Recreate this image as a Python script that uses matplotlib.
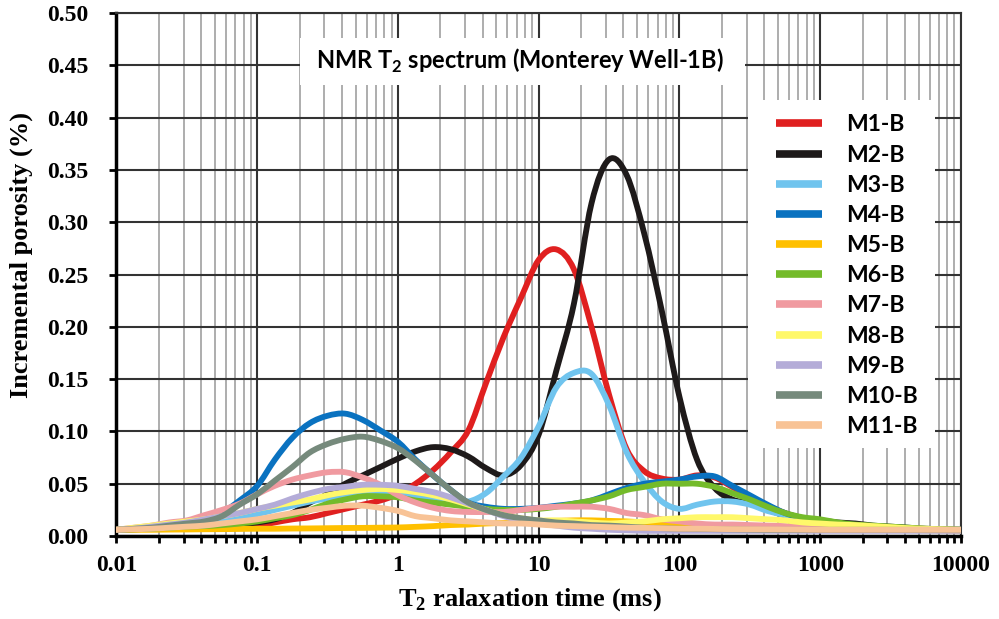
import matplotlib
matplotlib.use("Agg")
import matplotlib.pyplot as plt
import numpy as np
from matplotlib.lines import Line2D
from matplotlib.patches import PathPatch, Rectangle
from matplotlib.path import Path
from matplotlib.ticker import FixedLocator, FixedFormatter, LogLocator, NullFormatter

plt.rcParams.update(
    {
        "font.family": "Liberation Serif",
        "font.weight": "bold",
        "mathtext.fontset": "custom",
        "mathtext.rm": "Lato:bold",
        "mathtext.bf": "Liberation Serif:bold",
    }
)

# T2 bins (ms), 8 bins per decade from 0.01 to 10000 ms
t2_ms = np.logspace(-2, 4, 49)

labels = ["M1-B", "M2-B", "M3-B", "M4-B", "M5-B", "M6-B",
          "M7-B", "M8-B", "M9-B", "M10-B", "M11-B"]
colors = ["#e02020", "#1e1a1a", "#70c4ee", "#0a72c0", "#ffc000", "#74bb2a",
          "#f09aa0", "#fff86a", "#b4acd8", "#768a7c", "#f8c396"]

m1 = [0.006, 0.0065, 0.007, 0.007, 0.0075, 0.008, 0.008, 0.009, 0.010,
      0.013, 0.016, 0.018, 0.022, 0.026, 0.030, 0.034, 0.040,
      0.050, 0.063, 0.080, 0.101, 0.146, 0.190, 0.228, 0.264,
      0.274, 0.255, 0.200, 0.135, 0.083, 0.062, 0.055, 0.054,
      0.058, 0.056, 0.047, 0.038, 0.029, 0.022, 0.017, 0.014,
      0.012, 0.010, 0.009, 0.008, 0.007, 0.0065, 0.006, 0.006]
m2 = [0.006, 0.0065, 0.007, 0.008, 0.009, 0.0095, 0.010, 0.011, 0.013,
      0.016, 0.022, 0.032, 0.040, 0.050, 0.058, 0.066, 0.074,
      0.081, 0.085, 0.083, 0.076, 0.065, 0.058, 0.068, 0.097,
      0.158, 0.222, 0.318, 0.360, 0.345, 0.289, 0.215, 0.133,
      0.073, 0.046, 0.035, 0.031, 0.025, 0.020, 0.017, 0.015,
      0.013, 0.012, 0.010, 0.009, 0.008, 0.007, 0.0065, 0.006]
m3 = [0.006, 0.007, 0.008, 0.010, 0.011, 0.013, 0.015, 0.018, 0.021,
      0.025, 0.029, 0.033, 0.036, 0.039, 0.040, 0.041, 0.040,
      0.038, 0.036, 0.034, 0.033, 0.041, 0.057, 0.075, 0.105,
      0.142, 0.156, 0.155, 0.125, 0.080, 0.052, 0.033, 0.026,
      0.030, 0.033, 0.033, 0.030, 0.024, 0.020, 0.016, 0.014,
      0.012, 0.010, 0.009, 0.008, 0.007, 0.0065, 0.006, 0.006]
m4 = [0.006, 0.007, 0.008, 0.009, 0.011, 0.015, 0.022, 0.034, 0.048,
      0.073, 0.094, 0.108, 0.115, 0.117, 0.111, 0.101, 0.090,
      0.073, 0.058, 0.044, 0.032, 0.028, 0.026, 0.026, 0.027,
      0.029, 0.031, 0.034, 0.040, 0.046, 0.050, 0.052, 0.054,
      0.057, 0.057, 0.048, 0.039, 0.030, 0.022, 0.017, 0.014,
      0.012, 0.010, 0.009, 0.008, 0.007, 0.0065, 0.006, 0.006]
m5 = [0.006, 0.006, 0.006, 0.0062, 0.0063, 0.0065, 0.0066, 0.0068, 0.007,
      0.007, 0.0072, 0.0073, 0.0075, 0.0077, 0.0078, 0.008, 0.0082,
      0.0088, 0.0095, 0.0105, 0.011, 0.012, 0.0125, 0.013, 0.014,
      0.0145, 0.015, 0.015, 0.0145, 0.014, 0.013, 0.012, 0.011,
      0.0105, 0.010, 0.0095, 0.009, 0.0085, 0.008, 0.008, 0.0075,
      0.007, 0.007, 0.0065, 0.006, 0.006, 0.0055, 0.0055, 0.005]
m6 = [0.006, 0.0065, 0.007, 0.008, 0.009, 0.0095, 0.0105, 0.012, 0.014,
      0.017, 0.020, 0.025, 0.031, 0.035, 0.038, 0.038, 0.037,
      0.034, 0.032, 0.030, 0.028, 0.026, 0.025, 0.025, 0.026,
      0.028, 0.031, 0.034, 0.038, 0.044, 0.047, 0.050, 0.050,
      0.050, 0.047, 0.041, 0.035, 0.028, 0.022, 0.018, 0.016,
      0.013, 0.011, 0.010, 0.009, 0.008, 0.007, 0.0065, 0.006]
m7 = [0.006, 0.008, 0.010, 0.013, 0.015, 0.020, 0.025, 0.031, 0.040,
      0.048, 0.054, 0.058, 0.061, 0.061, 0.056, 0.049, 0.039,
      0.032, 0.027, 0.024, 0.023, 0.023, 0.023, 0.025, 0.027,
      0.028, 0.028, 0.028, 0.026, 0.022, 0.020, 0.016, 0.014,
      0.012, 0.011, 0.011, 0.0105, 0.010, 0.0095, 0.009, 0.008,
      0.008, 0.007, 0.007, 0.0065, 0.006, 0.006, 0.0055, 0.0055]
m8 = [0.006, 0.008, 0.010, 0.012, 0.014, 0.016, 0.019, 0.022, 0.026,
      0.029, 0.032, 0.035, 0.039, 0.042, 0.044, 0.045, 0.044,
      0.042, 0.039, 0.035, 0.030, 0.025, 0.020, 0.017, 0.015,
      0.015, 0.014, 0.013, 0.012, 0.013, 0.014, 0.016, 0.017,
      0.018, 0.018, 0.018, 0.017, 0.016, 0.015, 0.013, 0.012,
      0.011, 0.0105, 0.0095, 0.0085, 0.0075, 0.007, 0.0065, 0.006]
m9 = [0.006, 0.007, 0.009, 0.011, 0.013, 0.016, 0.019, 0.022, 0.026,
      0.030, 0.036, 0.041, 0.045, 0.047, 0.049, 0.049, 0.048,
      0.045, 0.042, 0.037, 0.031, 0.025, 0.019, 0.015, 0.012,
      0.010, 0.008, 0.007, 0.006, 0.0055, 0.005, 0.005, 0.005,
      0.005, 0.005, 0.005, 0.005, 0.005, 0.005, 0.005, 0.005,
      0.005, 0.005, 0.005, 0.005, 0.005, 0.005, 0.005, 0.005]
m10 = [0.006, 0.007, 0.008, 0.010, 0.012, 0.014, 0.019, 0.030, 0.040,
       0.053, 0.066, 0.080, 0.088, 0.093, 0.095, 0.091, 0.084,
       0.072, 0.058, 0.044, 0.032, 0.025, 0.020, 0.017, 0.015,
       0.013, 0.012, 0.0105, 0.010, 0.009, 0.008, 0.0075, 0.007,
       0.0068, 0.0066, 0.0064, 0.0062, 0.006, 0.006, 0.006, 0.006,
       0.006, 0.006, 0.006, 0.006, 0.006, 0.006, 0.006, 0.006]
m11 = [0.006, 0.0065, 0.007, 0.008, 0.009, 0.010, 0.012, 0.014, 0.016,
       0.019, 0.022, 0.025, 0.027, 0.029, 0.029, 0.027, 0.024,
       0.019, 0.017, 0.015, 0.014, 0.013, 0.012, 0.012, 0.011,
       0.010, 0.0095, 0.009, 0.0085, 0.008, 0.0078, 0.0075, 0.007,
       0.007, 0.0068, 0.0066, 0.0065, 0.0064, 0.0063, 0.0062, 0.006,
       0.006, 0.006, 0.006, 0.006, 0.006, 0.006, 0.006, 0.006]
series = [m1, m2, m3, m4, m5, m6, m7, m8, m9, m10, m11]

x_ticks = [0.01, 0.1, 1, 10, 100, 1000, 10000]
x_tick_labels = ["0.01", "0.1", "1", "10", "100", "1000", "10000"]
y_ticks = np.arange(0, 0.501, 0.05)


def smooth_path(x, y):
    # Excel-style "smoothed line": cubic Bezier segments through the points
    lx = np.log10(x)
    y = np.asarray(y, dtype=float)
    n = len(lx)
    verts = [(x[0], y[0])]
    codes = [Path.MOVETO]
    for i in range(n - 1):
        i0 = max(i - 1, 0)
        i3 = min(i + 2, n - 1)
        c1 = (lx[i] + (lx[i + 1] - lx[i0]) / 6, y[i] + (y[i + 1] - y[i0]) / 6)
        c2 = (lx[i + 1] - (lx[i3] - lx[i]) / 6, y[i + 1] - (y[i3] - y[i]) / 6)
        verts += [(10 ** c1[0], c1[1]), (10 ** c2[0], c2[1]), (x[i + 1], y[i + 1])]
        codes += [Path.CURVE4] * 3
    return Path(verts, codes)


fig = plt.figure(figsize=(9.99, 6.19), dpi=100)
ax = fig.add_axes([0.1166, 0.134, 0.8453, 0.845])

ax.set_xscale("log")
ax.set_xlim(0.01, 10000)
ax.set_ylim(0, 0.5)

for vals, col in zip(series, colors):
    ax.add_patch(PathPatch(smooth_path(t2_ms, vals), facecolor="none", edgecolor=col,
                           lw=4.2, capstyle="round", joinstyle="round", zorder=3))

ax.xaxis.set_major_locator(FixedLocator(x_ticks))
ax.xaxis.set_major_formatter(FixedFormatter(x_tick_labels))
ax.xaxis.set_minor_locator(LogLocator(base=10, subs=np.arange(2, 10), numticks=20))
ax.xaxis.set_minor_formatter(NullFormatter())
ax.set_yticks(y_ticks)
ax.set_yticklabels([f"{v:.2f}" for v in y_ticks])

ax.set_axisbelow(True)
ax.grid(which="major", axis="both", color="#333333", lw=1.5)
ax.grid(which="minor", axis="x", color="#a0a0a0", lw=1.2)

for side in ["left", "bottom"]:
    ax.spines[side].set_linewidth(2.5)
    ax.spines[side].set_color("black")
for side in ["top", "right"]:
    ax.spines[side].set_linewidth(1.5)
    ax.spines[side].set_color("#333333")

ax.tick_params(axis="both", which="both", direction="out", width=2, length=5, color="black")
ax.tick_params(axis="y", labelsize=17, pad=15)
ax.tick_params(axis="x", labelsize=17, pad=9)

ax.set_xlabel(r"T$_\mathbf{2}$ ralaxation time (ms)", fontsize=19, fontweight="bold")
ax.set_ylabel("Incremental porosity (%)", fontsize=19, fontweight="bold")
ax.xaxis.set_label_coords(0.49, -0.095)
ax.yaxis.set_label_coords(-0.099, 0.537)

# title box inside the plot
ax.add_patch(Rectangle((0.2173, 0.862), 0.527, 0.09, transform=ax.transAxes,
                       facecolor="white", edgecolor="none", zorder=2))
ax.text(0.478, 0.908, r"NMR T$_\mathrm{2}$ spectrum (Monterey Well-1B)",
        transform=ax.transAxes, ha="center", va="center", fontsize=17,
        family="Lato", fontweight="bold", zorder=4)

# legend box
ax.add_patch(Rectangle((0.748, 0.168), 0.221, 0.666, transform=ax.transAxes,
                       facecolor="white", edgecolor="none", zorder=4))
handles = [Line2D([], [], color=c, lw=5.5, solid_capstyle="butt") for c in colors]
leg = ax.legend(handles, labels, loc="upper left", bbox_to_anchor=(0.781, 0.806),
                borderaxespad=0, borderpad=0, frameon=False,
                prop={"family": "Lato", "weight": "bold", "size": 16.5},
                handlelength=2.0, handletextpad=1.05, labelspacing=0.4)
leg.set_zorder(5)

fig.savefig("out.png", dpi=100)
